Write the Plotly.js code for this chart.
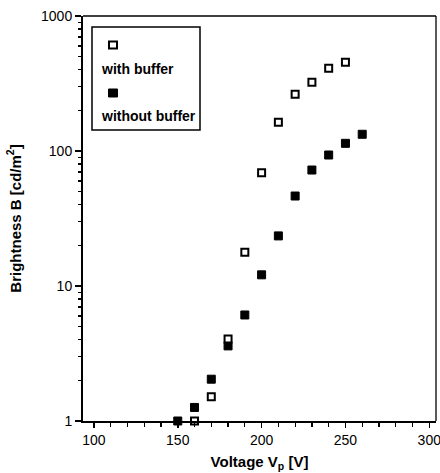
<!DOCTYPE html>
<html>
<head>
<meta charset="utf-8">
<script src="https://cdn.plot.ly/plotly-3.0.1.min.js"></script>
<style>html,body{margin:0;padding:0;background:#fff;}#chart{width:440px;height:473px;}</style>
</head>
<body>
<div id="chart"></div>
<script>
// Data
var voltageWith = [160, 170, 180, 190, 200, 210, 220, 230, 240, 250];
var brightnessWith = [1.0, 1.51, 4.05, 17.8, 69, 163, 263, 323, 410, 454];
var voltageWithout = [150, 160, 170, 180, 190, 200, 210, 220, 230, 240, 250, 260];
var brightnessWithout = [1.0, 1.26, 2.04, 3.6, 6.1, 12.1, 23.5, 46.4, 72.3, 93.4, 114, 133];
var seriesNames = ["with buffer", "without buffer"];

var FONT = "Arial, 'Liberation Sans', Helvetica, sans-serif";

var traces = [
  {
    x: voltageWithout, y: brightnessWithout, name: seriesNames[1],
    type: "scatter", mode: "markers", cliponaxis: false, showlegend: false,
    marker: {symbol: "square", size: 8, color: "#000", line: {color: "#000", width: 1}}
  },
  {
    x: voltageWith, y: brightnessWith, name: seriesNames[0],
    type: "scatter", mode: "markers", cliponaxis: false, showlegend: false,
    marker: {symbol: "square", size: 7, color: "#fff", line: {color: "#000", width: 2}}
  }
];

// plot area in pixels: x 83..436, y 16..421
var L = 83, T = 16, W = 353, H = 405;
function px(x) { return (x - L) / W; }
function py(y) { return (T + H - y) / H; }

var layout = {
  width: 440, height: 473,
  margin: {l: L, r: 440 - L - W, t: T, b: 473 - T - H},
  paper_bgcolor: "#fff", plot_bgcolor: "#fff",
  showlegend: false,
  font: {family: FONT, color: "#000", size: 14},
  xaxis: {
    range: [93.5, 304], tickmode: "linear", tick0: 100, dtick: 50,
    ticks: "outside", ticklen: 5, tickwidth: 1.5, ticklabeloverflow: "allow",
    tickcolor: "#000", showline: true, linecolor: "#000", linewidth: 2, mirror: false,
    showgrid: false, zeroline: false, tickfont: {family: FONT, size: 14},
    minor: {dtick: 10, tick0: 100, ticks: "outside", ticklen: 4, tickwidth: 1.2, tickcolor: "#000", showgrid: false},
    title: {text: "Voltage V<sub>p</sub> [V]", font: {family: FONT, size: 15, weight: "bold"}, standoff: 10}
  },
  yaxis: {
    type: "log", range: [0, 3], tickmode: "linear", tick0: 0, dtick: 1, exponentformat: "none",
    ticks: "outside", ticklen: 6, tickwidth: 1.5, tickcolor: "#000",
    showline: true, linecolor: "#000", linewidth: 2, mirror: false,
    showgrid: false, zeroline: false, tickfont: {family: FONT, size: 14},
    minor: {dtick: "D1", ticks: "outside", ticklen: 3, tickwidth: 1.2, tickcolor: "#000", showgrid: false},
    title: {text: "Brightness B [cd/m<sup>2</sup>]", font: {family: FONT, size: 15, weight: "bold"}, standoff: 16}
  },
  shapes: [
    // top and right frame lines
    {type: "line", xref: "paper", yref: "paper", x0: 0, x1: 1, y0: 1, y1: 1, line: {color: "#000", width: 1.3}},
    {type: "line", xref: "paper", yref: "paper", x0: 1, x1: 1, y0: 0, y1: 1, line: {color: "#000", width: 1.3}},
    // legend box
    {type: "rect", xref: "paper", yref: "paper", x0: px(92), x1: px(200), y0: py(130), y1: py(27),
     line: {color: "#000", width: 1.5}, fillcolor: "rgba(0,0,0,0)"},
    // legend symbols
    {type: "rect", xref: "paper", yref: "paper", x0: px(109), x1: px(117), y0: py(48.5), y1: py(41.5),
     line: {color: "#000", width: 2}, fillcolor: "#fff"},
    {type: "rect", xref: "paper", yref: "paper", x0: px(108.5), x1: px(117.5), y0: py(97), y1: py(89),
     line: {color: "#000", width: 1}, fillcolor: "#000"}
  ],
  annotations: [
    {xref: "paper", yref: "paper", x: px(99), y: py(69), xanchor: "left", yanchor: "middle",
     text: seriesNames[0], showarrow: false, font: {family: FONT, size: 14, weight: "bold"}},
    {xref: "paper", yref: "paper", x: px(99), y: py(116), xanchor: "left", yanchor: "middle",
     text: seriesNames[1], showarrow: false, font: {family: FONT, size: 14, weight: "bold"}}
  ]
};

Plotly.newPlot("chart", traces, layout, {displayModeBar: false, staticPlot: true});
</script>
</body>
</html>
